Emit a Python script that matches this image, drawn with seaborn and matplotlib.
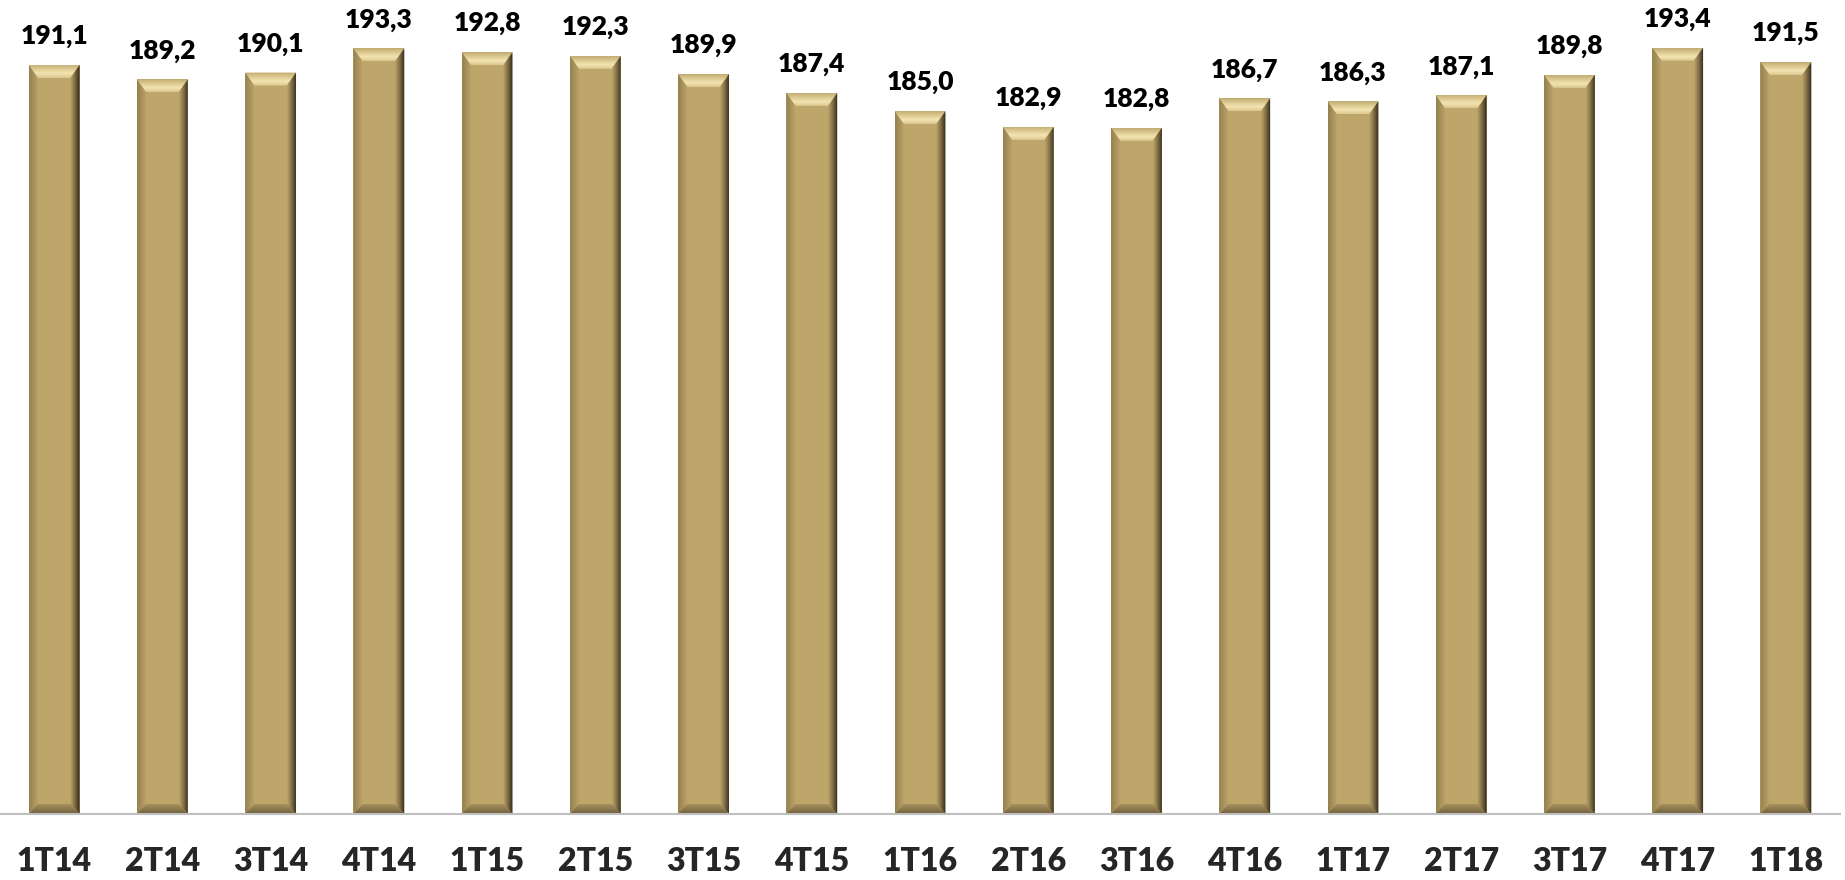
import numpy as np
import pandas as pd
import seaborn as sns
import matplotlib.pyplot as plt
from matplotlib.patches import Polygon
from matplotlib.colors import LinearSegmentedColormap

# Data
quarters = ['1T14', '2T14', '3T14', '4T14', '1T15', '2T15', '3T15', '4T15', '1T16',
            '2T16', '3T16', '4T16', '1T17', '2T17', '3T17', '4T17', '1T18']
values = [191.1, 189.2, 190.1, 193.3, 192.8, 192.3, 189.9, 187.4, 185.0,
          182.9, 182.8, 186.7, 186.3, 187.1, 189.8, 193.4, 191.5]

BASE = '#BEA66B'

df = pd.DataFrame({'quarter': quarters, 'value': values})

sns.set_style('white')
plt.rcParams['font.family'] = ['Lato', 'DejaVu Sans']

fig = plt.figure(figsize=(18.45, 8.8), dpi=100)
ax = fig.add_axes([0, 66 / 880, 1840 / 1845, 814 / 880])

sns.barplot(data=df, x='quarter', y='value', color=BASE, width=0.47,
            saturation=1, edgecolor='none', ax=ax)

ymin, ymax = 92, 199.7
ax.set_xlim(-0.5, len(quarters) - 0.5)
ax.set_ylim(ymin, ymax)
ax.set_autoscale_on(False)

# bevel sizes in data units, from pixels
px_y = ax.bbox.height / (ymax - ymin)
by_top = 13 / px_y
by_bot = 10 / px_y


def gradient(poly, colors, horizontal, extent):
    cmap = LinearSegmentedColormap.from_list('g', colors)
    grad = np.linspace(0, 1, 64)
    arr = grad[None, :] if horizontal else grad[:, None]
    im = ax.imshow(arr, cmap=cmap, extent=extent, origin='lower',
                   aspect='auto', interpolation='bicubic', zorder=3)
    patch = Polygon(poly, closed=True, facecolor='none', edgecolor='none',
                    transform=ax.transData)
    ax.add_patch(patch)
    im.set_clip_path(patch)


for p in list(ax.patches):
    x0, w, top = p.get_x(), p.get_width(), p.get_height()
    bot = ymin
    bx = 0.18 * w
    x1 = x0 + w
    # top bevel (light)
    gradient([(x0, top), (x1, top), (x1 - bx, top - by_top), (x0 + bx, top - by_top)],
             ['#D9C68E', '#F3E5B2', '#DCC98F', '#C2AC73'], False,
             (x0, x1, top - by_top, top))
    # right bevel (dark)
    gradient([(x1, top), (x1, bot), (x1 - bx, bot + by_bot), (x1 - bx, top - by_top)],
             [BASE, '#7E6C44', '#2E2716'], True, (x1 - bx, x1, bot, top))
    # left bevel
    gradient([(x0, top), (x0 + bx, top - by_top), (x0 + bx, bot + by_bot), (x0, bot)],
             ['#94804F', BASE], True, (x0, x0 + bx, bot, top))
    # bottom bevel
    gradient([(x0, bot), (x0 + bx, bot + by_bot), (x1 - bx, bot + by_bot), (x1, bot)],
             ['#6E5F3C', '#A8925E'], False, (x0, x1, bot, bot + by_bot))

# value labels
for i, v in enumerate(values):
    ax.annotate(f'{v:.1f}'.replace('.', ','), xy=(i, v), xytext=(0, 12),
                textcoords='offset points', ha='center', va='bottom',
                fontsize=19, fontweight='heavy', color='black')

sns.despine(ax=ax, left=True, top=True, right=True)
ax.spines['bottom'].set_color('#BFBFBF')
ax.spines['bottom'].set_linewidth(1.5)
ax.spines['bottom'].set_zorder(5)
ax.set_yticks([])
ax.set_xlabel('')
ax.set_ylabel('')
ax.tick_params(axis='x', length=0, pad=24, labelsize=23)
for lbl in ax.get_xticklabels():
    lbl.set_fontweight('heavy')

fig.savefig('out.png', dpi=100)
